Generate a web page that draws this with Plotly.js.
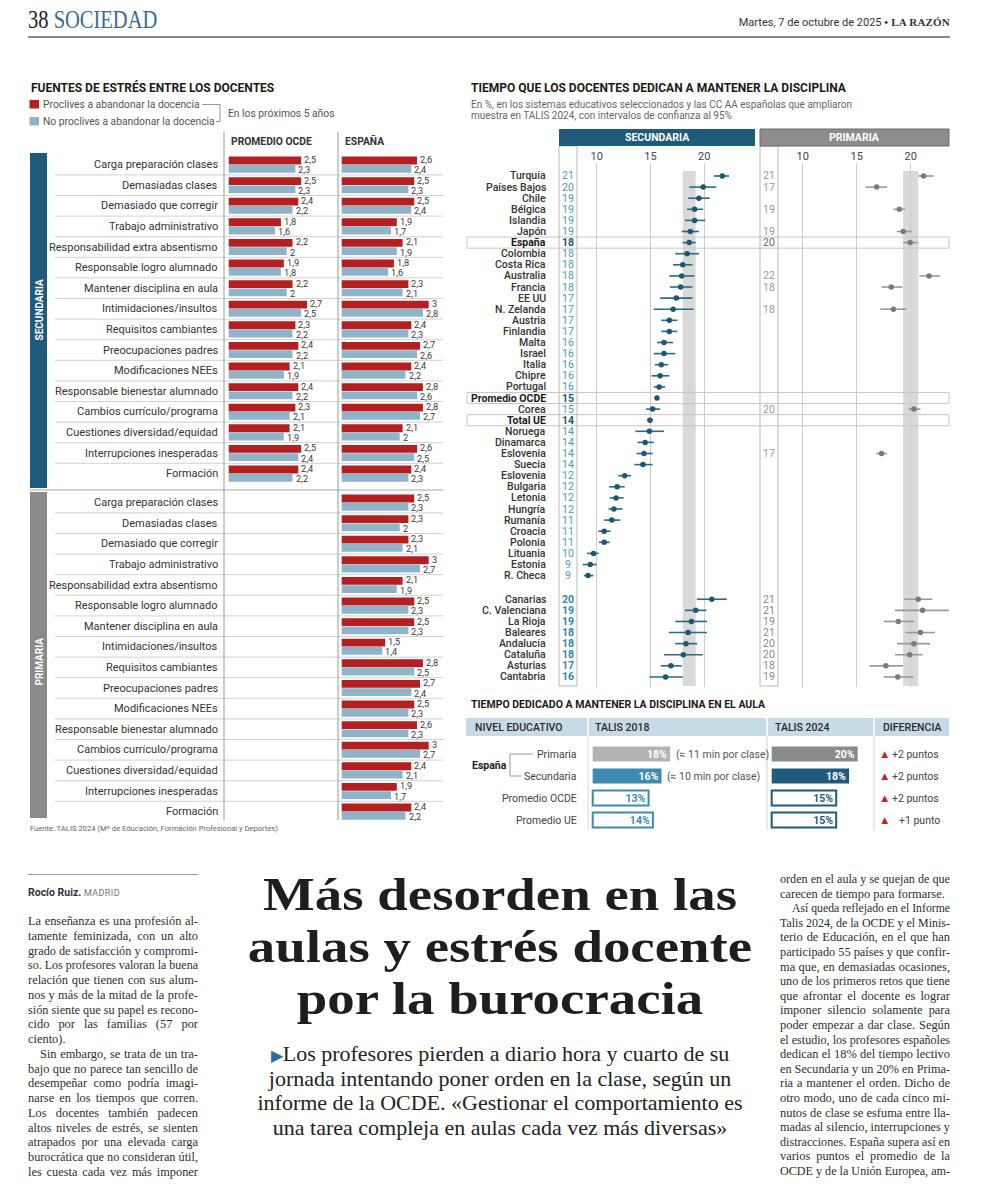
<!DOCTYPE html>
<html lang="es"><head><meta charset="utf-8">
<title>Más desorden en las aulas y estrés docente por la burocracia</title>
<script src="https://cdn.plot.ly/plotly-3.0.1.min.js"></script>
<style>
html,body{margin:0;padding:0;background:#fff}
body{width:988px;height:1200px;position:relative;overflow:hidden}
#chart{position:absolute;left:0;top:0;width:988px;height:845px;z-index:1}
.hdr-l{position:absolute;z-index:2;left:28px;top:5px;font-family:"Liberation Serif",serif;font-size:25px;line-height:30px;transform:scaleX(.82);transform-origin:left center;white-space:nowrap}
.hdr-l .n{color:#222}
.hdr-l .s{color:#3b6c92}
.hdr-r{position:absolute;z-index:2;right:38px;top:16px;font-family:Roboto,sans-serif;font-size:11px;line-height:13px;color:#333;white-space:nowrap}
.hdr-r b{font-family:"Liberation Serif",serif;font-weight:bold;letter-spacing:.2px}
.rule{position:absolute;z-index:2;left:28px;top:36px;width:922px;height:2px;background:#8c8c8c}
.col{position:absolute;font-family:"Liberation Serif",serif;font-size:12.4px;color:#2e2e2e}
.ln{white-space:nowrap;overflow:visible}
.ln span{display:inline-block;transform-origin:left center}
.ind{padding-left:12px}
.byrule{position:absolute;left:28px;top:874px;width:170px;height:1px;background:#999}
.by{position:absolute;left:28px;top:886px;font-family:Roboto,sans-serif;font-size:10.5px;line-height:14px;color:#333}
.by b{font-weight:bold}
.by small{font-size:9px;color:#777;letter-spacing:.4px}
.title{position:absolute;left:220px;top:869px;width:560px;text-align:center;font-family:"Liberation Serif",serif;font-weight:bold;font-size:46.5px;line-height:52px;color:#1e1e1e;transform:scaleX(1.18);transform-origin:280px 0}
.title div{height:52px;white-space:nowrap}
.sub{position:absolute;left:220px;top:1042px;width:560px;text-align:center;font-family:"Liberation Serif",serif;font-size:22px;line-height:24.5px;color:#222}
.sub div{height:24.5px;white-space:nowrap}
.sub .tri{color:#2a6d96;font-size:16px}
</style></head>
<body>
<div class="hdr-l"><span class="n">38 </span><span class="s">SOCIEDAD</span></div>
<div class="hdr-r">Martes, 7 de octubre de 2025 <b>• LA RAZÓN</b></div>
<div class="rule"></div>
<div id="chart"></div>

<div class="byrule"></div>
<div class="by"><b>Rocío Ruiz.</b> <small>MADRID</small></div>

<div class="col" id="colL" data-w="170" data-lh="14.75" style="left:28px;top:914px;width:170px">
<div class="ln">La enseñanza es una profesión al-</div>
<div class="ln">tamente feminizada, con un alto</div>
<div class="ln">grado de satisfacción y compromi-</div>
<div class="ln">so. Los profesores valoran la buena</div>
<div class="ln">relación que tienen con sus alum-</div>
<div class="ln">nos y más de la mitad de la profe-</div>
<div class="ln">sión siente que su papel es recono-</div>
<div class="ln">cido por las familias (57 por</div>
<div class="ln last">ciento).</div>
<div class="ln ind">Sin embargo, se trata de un tra-</div>
<div class="ln">bajo que no parece tan sencillo de</div>
<div class="ln">desempeñar como podría imagi-</div>
<div class="ln">narse en los tiempos que corren.</div>
<div class="ln">Los docentes también padecen</div>
<div class="ln">altos niveles de estrés, se sienten</div>
<div class="ln">atrapados por una elevada carga</div>
<div class="ln">burocrática que no consideran útil,</div>
<div class="ln">les cuesta cada vez más imponer</div>
</div>

<div class="title"><div>Más desorden en las</div><div>aulas y estrés docente</div><div>por la burocracia</div></div>
<div class="sub"><div><span class="tri">▶</span>Los profesores pierden a diario hora y cuarto de su</div><div>jornada intentando poner orden en la clase, según un</div><div>informe de la OCDE. «Gestionar el comportamiento es</div><div>una tarea compleja en aulas cada vez más diversas»</div></div>

<div class="col" id="colR" data-w="170" data-lh="14.6" style="left:780px;top:872px;width:170px">
<div class="ln">orden en el aula y se quejan de que</div>
<div class="ln last">carecen de tiempo para formarse.</div>
<div class="ln ind">Así queda reflejado en el Informe</div>
<div class="ln">Talis 2024, de la OCDE y el Minis-</div>
<div class="ln">terio de Educación, en el que han</div>
<div class="ln">participado 55 países y que confir-</div>
<div class="ln">ma que, en demasiadas ocasiones,</div>
<div class="ln">uno de los primeros retos que tiene</div>
<div class="ln">que afrontar el docente es lograr</div>
<div class="ln">imponer silencio solamente para</div>
<div class="ln">poder empezar a dar clase. Según</div>
<div class="ln">el estudio, los profesores españoles</div>
<div class="ln">dedican el 18% del tiempo lectivo</div>
<div class="ln">en Secundaria y un 20% en Prima-</div>
<div class="ln">ria a mantener el orden. Dicho de</div>
<div class="ln">otro modo, uno de cada cinco mi-</div>
<div class="ln">nutos de clase se esfuma entre lla-</div>
<div class="ln">madas al silencio, interrupciones y</div>
<div class="ln">distracciones. España supera así en</div>
<div class="ln">varios puntos el promedio de la</div>
<div class="ln">OCDE y de la Unión Europea, am-</div>
</div>

<script>
// ---------------- DATA ----------------
const stressCats = ["Carga preparación clases","Demasiadas clases","Demasiado que corregir","Trabajo administrativo","Responsabilidad extra absentismo","Responsable logro alumnado","Mantener disciplina en aula","Intimidaciones/insultos","Requisitos cambiantes","Preocupaciones padres","Modificaciones NEEs","Responsable bienestar alumnado","Cambios currículo/programa","Cuestiones diversidad/equidad","Interrupciones inesperadas","Formación"];
const secOcdeProclives   = [2.5,2.5,2.4,1.8,2.2,1.9,2.2,2.7,2.3,2.4,2.1,2.4,2.3,2.1,2.5,2.4];
const secOcdeNoProclives = [2.3,2.3,2.2,1.6,2,1.8,2,2.5,2.2,2.2,1.9,2.2,2.1,1.9,2.4,2.2];
const secEspProclives    = [2.6,2.5,2.5,1.9,2.1,1.8,2.3,3,2.4,2.7,2.4,2.8,2.8,2.1,2.6,2.4];
const secEspNoProclives  = [2.4,2.3,2.4,1.7,1.9,1.6,2.1,2.8,2.3,2.6,2.2,2.6,2.7,2,2.5,2.3];
const primEspProclives   = [2.5,2.3,2.3,3,2.1,2.5,2.5,1.5,2.8,2.7,2.5,2.6,3,2.4,1.9,2.4];
const primEspNoProclives = [2.3,2,2.1,2.7,1.9,2.3,2.3,1.4,2.5,2.4,2.3,2.3,2.7,2.1,1.7,2.2];

const countries = ["Turquía","Países Bajos","Chile","Bélgica","Islandia","Japón","España","Colombia","Costa Rica","Australia","Francia","EE UU","N. Zelanda","Austria","Finlandia","Malta","Israel","Italia","Chipre","Portugal","Promedio OCDE","Corea","Total UE","Noruega","Dinamarca","Eslovenia","Suecia","Eslovenia","Bulgaria","Letonia","Hungría","Rumanía","Croacia","Polonia","Lituania","Estonia","R. Checa"];
const highlighted = ["España","Promedio OCDE","Total UE"];
const secLabel = [21,20,19,19,19,19,18,18,18,18,18,17,17,17,17,16,16,16,16,16,15,15,14,14,14,14,14,12,12,12,12,11,11,11,10,9,9];
const secVal = [21.67,19.9,19.5,19.1,19.1,18.7,18.6,18.4,18.0,17.9,17.8,17.4,17.1,16.75,16.75,16.25,16.25,16.0,15.9,15.8,15.6,15.2,14.95,14.9,14.5,14.4,14.3,12.6,11.9,11.8,11.6,11.4,10.7,10.7,9.7,9.4,9.2];
const secLo  = [20.9,18.6,18.5,18.4,18.2,17.9,18.0,17.3,17.1,16.75,16.8,15.9,15.3,16.0,16.0,15.6,15.3,15.4,15.1,15.3,15.5,14.6,14.7,13.6,13.8,13.7,13.5,12.0,11.15,11.2,11.1,10.7,10.15,10.2,9.1,8.7,8.8];
const secHi  = [22.3,21.1,20.5,19.9,20.1,19.5,19.2,19.5,18.9,19.1,18.9,18.9,19.0,17.5,17.5,17.1,17.3,16.65,16.75,16.35,15.7,15.9,15.2,16.25,15.3,15.2,15.2,13.2,12.6,12.5,12.4,12.2,11.3,11.2,10.2,10.0,9.7];
const primLabel = [21,17,null,19,null,19,20,null,null,22,18,null,18,null,null,null,null,null,null,null,null,20,null,null,null,17,null,null,null,null,null,null,null,null,null,null,null];
const primVal   = [21.2,16.85,null,18.95,null,19.3,19.95,null,null,21.7,18.2,null,18.4,null,null,null,null,null,null,null,null,20.3,null,null,null,17.3,null,null,null,null,null,null,null,null,null,null,null];
const primLo    = [20.7,15.8,null,18.4,null,18.7,19.3,null,null,20.8,17.3,null,17.2,null,null,null,null,null,null,null,null,19.8,null,null,null,16.8,null,null,null,null,null,null,null,null,null,null,null];
const primHi    = [22.1,17.8,null,19.5,null,20.1,20.7,null,null,22.7,19.25,null,19.6,null,null,null,null,null,null,null,null,20.9,null,null,null,17.8,null,null,null,null,null,null,null,null,null,null,null];

const regions = ["Canarias","C. Valenciana","La Rioja","Baleares","Andalucía","Cataluña","Asturias","Cantabria"];
const regSecLabel = [20,19,19,18,18,18,17,16];
const regSecVal = [20.7,19.2,18.8,18.5,18.3,18.05,16.9,16.4];
const regSecLo  = [19.3,18.2,17.3,16.7,17.3,16.25,15.95,14.9];
const regSecHi  = [22.1,20.2,20.25,20.25,19.35,19.85,17.9,18.0];
const regPrimLabel = [21,21,19,21,20,20,18,19];
const regPrimVal = [20.7,21.1,18.85,20.9,20.3,19.9,17.7,18.8];
const regPrimLo  = [19.4,18.55,17.5,19.5,18.75,18.55,16.2,17.5];
const regPrimHi  = [22.0,23.6,20.3,22.25,21.8,21.1,19.3,20.25];

const tableLevels = ["Primaria","Secundaria","Promedio OCDE","Promedio UE"];
const talis2018 = [18,16,13,14];
const talis2024 = [20,18,15,15];
const minutes2018 = ["(≈ 11 min por clase)","(≈ 10 min por clase)","",""];

// ---------------- GEOMETRY HELPERS ----------------
const W = 988, H = 845;
const fx = p => p / W;
const fy = p => 1 - p / H;
const rng = (d0, d1, z, ppu) => [(d0 - z) / ppu, (d1 - z) / ppu];
const dec = v => String(v).replace('.', ',');
const FONT = 'Roboto, "Liberation Sans", sans-serif';

const RED = '#b3201f', LBLUE = '#8fb3c8', DBLUE = '#1f5a7a', TEAL = '#3d8bb0', DOT = '#1d5872';

const traces = [], shapes = [], ann = [];
const A = (o) => ann.push(Object.assign({showarrow:false, xanchor:'center', yanchor:'middle', font:{family:FONT, size:10.5, color:'#333'}}, o));
const line = (x0,y0,x1,y1,color,w,extra) => shapes.push(Object.assign({type:'line',xref:'paper',yref:'paper',x0:fx(x0),x1:fx(x1),y0:fy(y0),y1:fy(y1),line:{color:color,width:w}},extra||{}));
const rect = (x0,y0,x1,y1,fill,lc,lw,extra) => shapes.push(Object.assign({type:'rect',xref:'paper',yref:'paper',x0:fx(x0),x1:fx(x1),y0:fy(y0),y1:fy(y1),fillcolor:fill,line:{color:lc||fill,width:lw||0}},extra||{}));

// ================= LEFT CHART =================
const LT = 150, LB = 822, L0 = 164.6, LP = 20.6;
const primStart = (502.6 - L0) / LP;
const secIdx = stressCats.map((c,i)=>i);
const primIdx = stressCats.map((c,i)=>primStart+i);
const OFF = 0.2, BW = 0.38;
function hbar(xs, ys, color, xa, lblShift){
  traces.push({type:'bar', orientation:'h', x:xs, y:ys, xaxis:xa, yaxis:'y', width:BW,
    marker:{color:color}, hoverinfo:'skip'});
  xs.forEach((v,k)=>A({xref:xa, yref:'y', x:v, y:ys[k], xanchor:'left', xshift:1, yshift:lblShift,
    text:dec(v), font:{family:FONT,size:9.2,color:'#3a3a3a'}}));
}
hbar(secOcdeProclives,   secIdx.map(i=>i-OFF), RED, 'x', 1.0);
hbar(secOcdeNoProclives, secIdx.map(i=>i+OFF), LBLUE, 'x', -1.0);
hbar(secEspProclives,    secIdx.map(i=>i-OFF), RED, 'x2', 1.0);
hbar(secEspNoProclives,  secIdx.map(i=>i+OFF), LBLUE, 'x2', -1.0);
hbar(primEspProclives,   primIdx.map(i=>i-OFF), RED, 'x2', 1.0);
hbar(primEspNoProclives, primIdx.map(i=>i+OFF), LBLUE, 'x2', -1.0);

// row separators
secIdx.slice(0,15).forEach(i=>shapes.push({type:'line',xref:'paper',yref:'y',x0:fx(55),x1:fx(443),y0:i+0.5,y1:i+0.5,line:{color:'#d2d2d2',width:1}}));
primIdx.slice(0,15).forEach(i=>shapes.push({type:'line',xref:'paper',yref:'y',x0:fx(55),x1:fx(443),y0:i+0.5,y1:i+0.5,line:{color:'#d2d2d2',width:1}}));
line(30,490,443,490,'#c4c4c4',1.5);
line(224,132,224,820,'#9a9a9a',1);
line(338,132,338,820,'#9a9a9a',1);
// section bars
rect(30,153,47,488,DBLUE);
rect(30,492,47,818,'#8a8a8a');
A({xref:'paper',yref:'paper',x:fx(38.5),y:fy(310),text:'<b>SECUNDARIA</b>',textangle:-90,font:{family:FONT,size:10,color:'#fff'}});
A({xref:'paper',yref:'paper',x:fx(38.5),y:fy(662),text:'<b>PRIMARIA</b>',textangle:-90,font:{family:FONT,size:10,color:'#fff'}});
// category labels
stressCats.forEach((c,i)=>{
  A({xref:'paper',yref:'y',x:fx(220),y:secIdx[i],xanchor:'right',text:c,font:{family:FONT,size:11,color:'#333'}});
  A({xref:'paper',yref:'y',x:fx(220),y:primIdx[i],xanchor:'right',text:c,font:{family:FONT,size:11,color:'#333'}});
});
// titles / legend
A({xref:'paper',yref:'paper',x:fx(29),y:fy(88),xanchor:'left',text:'<b>FUENTES DE ESTRÉS ENTRE LOS DOCENTES</b>',font:{family:FONT,size:12,color:'#1a1a1a'}});
rect(29.5,100,39,108.5,RED);
rect(29.5,117,39,125.5,LBLUE);
A({xref:'paper',yref:'paper',x:fx(40.5),y:fy(104.3),xanchor:'left',text:'Proclives a abandonar la docencia',font:{family:FONT,size:10.3,color:'#555'}});
A({xref:'paper',yref:'paper',x:fx(40.5),y:fy(121),xanchor:'left',text:'No proclives a abandonar la docencia',font:{family:FONT,size:10.3,color:'#555'}});
line(202,104.5,220,104.5,'#999',1);
line(220,104.5,220,121.5,'#999',1);
line(216,121.5,220,121.5,'#999',1);
A({xref:'paper',yref:'paper',x:fx(226),y:fy(113.3),xanchor:'left',text:'En los próximos 5 años',font:{family:FONT,size:10.3,color:'#555'}});
A({xref:'paper',yref:'paper',x:fx(228.5),y:fy(141.5),xanchor:'left',text:'<b>PROMEDIO OCDE</b>',font:{family:FONT,size:10.3,color:'#333'}});
A({xref:'paper',yref:'paper',x:fx(342.5),y:fy(141.5),xanchor:'left',text:'<b>ESPAÑA</b>',font:{family:FONT,size:10.3,color:'#333'}});
A({xref:'paper',yref:'paper',x:fx(28),y:fy(828),xanchor:'left',text:'Fuente: TALIS 2024 (Mº de Educación, Formación Profesional y Deportes)',font:{family:FONT,size:7.6,color:'#666'}});

// ================= RIGHT CHART =================
const RT = 163, RB = 687, R0 = 176, RP = 11.1, REG0 = 38.13;
const cIdx = countries.map((c,i)=>i);
const rIdx = regions.map((r,j)=>REG0+j);
const espI = countries.indexOf('España');

// header boxes
rect(559,129,755,146,DBLUE);
rect(760,129,949,146,'#8c8c8c','#6c6c6c',1);
A({xref:'paper',yref:'paper',x:fx(657),y:fy(137.5),text:'<b>SECUNDARIA</b>',font:{family:FONT,size:10.5,color:'#fff'}});
A({xref:'paper',yref:'paper',x:fx(854.5),y:fy(137.5),text:'<b>PRIMARIA</b>',font:{family:FONT,size:10.5,color:'#fff'}});
A({xref:'paper',yref:'paper',x:fx(469),y:fy(88),xanchor:'left',text:'<b>TIEMPO QUE LOS DOCENTES DEDICAN A MANTENER LA DISCIPLINA</b>',font:{family:FONT,size:12,color:'#1a1a1a'}});
A({xref:'paper',yref:'paper',x:fx(469),y:fy(104.3),xanchor:'left',text:'En %, en los sistemas educativos seleccionados y las CC AA españolas que ampliaron',font:{family:FONT,size:10,color:'#666'}});
A({xref:'paper',yref:'paper',x:fx(469),y:fy(115.7),xanchor:'left',text:'muestra en TALIS 2024, con intervalos de confianza al 95%',font:{family:FONT,size:10,color:'#666'}});

// Spain reference bands (from Spain CI)
shapes.push({type:'rect',xref:'x3',yref:'paper',x0:secLo[espI],x1:secHi[espI],y0:fy(686),y1:fy(171),fillcolor:'#d9d9d9',line:{width:0},layer:'below'});
shapes.push({type:'rect',xref:'x4',yref:'paper',x0:primLo[espI],x1:primHi[espI],y0:fy(686),y1:fy(171),fillcolor:'#d9d9d9',line:{width:0},layer:'below'});
// number columns
rect(559,146,577,686,'rgba(0,0,0,0)','#b8b8b8',1,{layer:'below'});
rect(760,146,778,686,'rgba(0,0,0,0)','#b8b8b8',1,{layer:'below'});
// highlighted rows
highlighted.forEach(h=>{
  const i = countries.indexOf(h);
  shapes.push({type:'rect',xref:'paper',yref:'y3',x0:fx(467),x1:fx(949),y0:i-0.5,y1:i+0.5,fillcolor:'rgba(0,0,0,0)',line:{color:'#c6c6c6',width:1},layer:'below'});
});
// labels & numbers
countries.forEach((c,i)=>{
  const hl = highlighted.includes(c);
  A({xref:'paper',yref:'y3',x:fx(547.5),y:i,xanchor:'right',text:hl?'<b>'+c+'</b>':c,font:{family:FONT,size:10.5,color:hl?'#1a1a1a':'#333',weight:hl?700:500}});
  A({xref:'paper',yref:'y3',x:fx(568),y:i,text:hl?'<b>'+secLabel[i]+'</b>':String(secLabel[i]),font:{family:FONT,size:10.5,color:hl?DOT:'#4a98b8'}});
  if(primLabel[i]!==null) A({xref:'paper',yref:'y3',x:fx(769),y:i,text:String(primLabel[i]),font:{family:FONT,size:10.5,color:c==='España'?'#666':'#999'}});
});
regions.forEach((r,j)=>{
  A({xref:'paper',yref:'y3',x:fx(547.5),y:rIdx[j],xanchor:'right',text:r,font:{family:FONT,size:10.5,color:'#333',weight:500}});
  A({xref:'paper',yref:'y3',x:fx(568),y:rIdx[j],text:'<b>'+regSecLabel[j]+'</b>',font:{family:FONT,size:10.5,color:'#2f86ad'}});
  A({xref:'paper',yref:'y3',x:fx(769),y:rIdx[j],text:String(regPrimLabel[j]),font:{family:FONT,size:10.5,color:'#888'}});
});
function dots(vals, lo, hi, ys, xa, color, ecolor){
  traces.push({type:'scatter', mode:'markers', x:vals, y:ys, xaxis:xa, yaxis:'y3',
    marker:{color:color,size:5.5}, cliponaxis:false, hoverinfo:'skip',
    error_x:{type:'data',symmetric:false,array:vals.map((v,k)=>v===null?null:hi[k]-v),arrayminus:vals.map((v,k)=>v===null?null:v-lo[k]),color:ecolor,thickness:1.6,width:0}});
}
dots(secVal.concat(regSecVal), secLo.concat(regSecLo), secHi.concat(regSecHi), cIdx.concat(rIdx), 'x3', DOT, '#2a6a86');
dots(primVal.concat(regPrimVal), primLo.concat(regPrimLo), primHi.concat(regPrimHi), cIdx.concat(rIdx), 'x4', '#7a7a7a', '#9a9a9a');

// ================= TABLE =================
const TT = 742, TB = 830, T0 = 754, TP = 22;
const tIdx = tableLevels.map((t,i)=>i);
A({xref:'paper',yref:'paper',x:fx(469),y:fy(704),xanchor:'left',text:'<b>TIEMPO DEDICADO A MANTENER LA DISCIPLINA EN EL AULA</b>',font:{family:FONT,size:10.5,color:'#1a1a1a'}});
rect(466,718,949,736,'#c7dbe7');
[588,767,874].forEach(x=>{ line(x,718,x,736,'#ffffff',1.5); line(x,736,x,830,'#d6d6d6',1); });
A({xref:'paper',yref:'paper',x:fx(473),y:fy(727.5),xanchor:'left',text:'NIVEL EDUCATIVO',font:{family:FONT,size:10.5,color:'#2a2a2a',weight:500}});
A({xref:'paper',yref:'paper',x:fx(593),y:fy(727.5),xanchor:'left',text:'TALIS 2018',font:{family:FONT,size:10.5,color:'#2a2a2a',weight:500}});
A({xref:'paper',yref:'paper',x:fx(773),y:fy(727.5),xanchor:'left',text:'TALIS 2024',font:{family:FONT,size:10.5,color:'#2a2a2a',weight:500}});
A({xref:'paper',yref:'paper',x:fx(880.5),y:fy(727.5),xanchor:'left',text:'DIFERENCIA',font:{family:FONT,size:10.5,color:'#2a2a2a',weight:500}});
A({xref:'paper',yref:'paper',x:fx(470),y:fy(765),xanchor:'left',text:'<b>España</b>',font:{family:FONT,size:10.5,color:'#222'}});
line(510,754,533,754,'#999',1); line(510,754,510,776,'#999',1); line(510,776,521,776,'#999',1);
tableLevels.forEach((t,i)=>A({xref:'paper',yref:'y5',x:fx(578.5),y:i,xanchor:'right',text:t,font:{family:FONT,size:10.5,color:'#444'}}));
const fill18 = ['#b3b3b3',TEAL,'#ffffff','#ffffff'], line18 = ['#b3b3b3',TEAL,TEAL,TEAL], txt18 = ['#ffffff','#ffffff',TEAL,TEAL];
const fill24 = ['#8a8a8a',DBLUE,'#ffffff','#ffffff'], line24 = ['#8a8a8a',DBLUE,DBLUE,DBLUE], txt24 = ['#ffffff','#ffffff',DBLUE,DBLUE];
function tbar(vals, xa, fill, lc, tc){
  traces.push({type:'bar',orientation:'h',x:vals,y:tIdx,xaxis:xa,yaxis:'y5',width:0.68,
    marker:{color:fill,line:{color:lc,width:vals.map((v,k)=>k<2?0:2)}},
    text:vals.map(v=>v+'%'),textposition:'inside',insidetextanchor:'end',constraintext:'none',
    textfont:{family:FONT,size:10.5,color:tc,weight:700},hoverinfo:'skip'});
}
tbar(talis2018,'x5',fill18,line18,txt18);
tbar(talis2024,'x6',fill24,line24,txt24);
minutes2018.forEach((m,i)=>{ if(m) A({xref:'x5',yref:'y5',x:talis2018[i]+0.8,y:i,xanchor:'left',text:m,font:{family:FONT,size:10.5,color:'#555'}}); });
tableLevels.forEach((t,i)=>{
  const d = talis2024[i]-talis2018[i];
  A({xref:'paper',yref:'y5',x:fx(884),y:i,text:'▲',font:{family:FONT,size:11.5,color:'#c0272d'}});
  A({xref:'paper',yref:'y5',x:fx(d===1?897:889.5),y:i,xanchor:'left',text:'+'+d+(d===1?' punto':' puntos'),font:{family:FONT,size:10.5,color:'#444'}});
});

// ---------------- LAYOUT ----------------
const hid = {visible:false, fixedrange:true};
const layout = {
  width:W, height:H, margin:{l:0,r:0,t:0,b:0}, paper_bgcolor:'rgba(0,0,0,0)', plot_bgcolor:'rgba(0,0,0,0)',
  showlegend:false, barmode:'overlay', font:{family:FONT},
  xaxis: Object.assign({domain:[fx(224),fx(336)], range:rng(224,336,228.7,29), anchor:'y'}, hid),
  xaxis2:Object.assign({domain:[fx(338),fx(445)], range:rng(338,445,341.7,29), anchor:'y'}, hid),
  yaxis: Object.assign({domain:[fy(LB),fy(LT)], range:[(LB-L0)/LP,(LT-L0)/LP], anchor:'x'}, hid),
  xaxis3:{domain:[fx(559),fx(755)], range:rng(559,755,489.1,10.76), anchor:'y3', side:'top', tickvals:[10,15,20], showgrid:true, gridcolor:'#cdcdcd', gridwidth:1, zeroline:false, showline:false, ticks:'', tickfont:{family:FONT,size:11,color:'#444'}, fixedrange:true},
  xaxis4:{domain:[fx(760),fx(949)], range:rng(760,949,694.7,10.8), anchor:'y3', side:'top', tickvals:[10,15,20], showgrid:true, gridcolor:'#cdcdcd', gridwidth:1, zeroline:false, showline:false, ticks:'', tickfont:{family:FONT,size:11,color:'#444'}, fixedrange:true},
  yaxis3:Object.assign({domain:[fy(RB),fy(RT)], range:[(RB-R0)/RP,(RT-R0)/RP], anchor:'x3'}, hid),
  xaxis5:Object.assign({domain:[fx(588),fx(767)], range:rng(588,767,592.7,4.3), anchor:'y5'}, hid),
  xaxis6:Object.assign({domain:[fx(767),fx(874)], range:rng(767,874,771.7,4.3), anchor:'y5'}, hid),
  yaxis5:Object.assign({domain:[fy(TB),fy(TT)], range:[(TB-T0)/TP,(TT-T0)/TP], anchor:'x5'}, hid),
  shapes:shapes, annotations:ann
};
Plotly.newPlot('chart', traces, layout, {displayModeBar:false, staticPlot:true});

// ---------------- justify article columns ----------------
document.querySelectorAll('.col').forEach(col=>{
  const w = parseFloat(col.dataset.w), lh = parseFloat(col.dataset.lh);
  col.querySelectorAll('.ln').forEach(ln=>{
    ln.style.height = lh+'px'; ln.style.lineHeight = lh+'px';
    const txt = ln.textContent; ln.textContent='';
    const sp = document.createElement('span'); sp.textContent = txt; ln.appendChild(sp);
    const avail = w - (ln.classList.contains('ind')?12:0);
    const nat = sp.getBoundingClientRect().width;
    if(nat > avail){ sp.style.transform = 'scaleX('+(avail/nat)+')'; }
    else if(!ln.classList.contains('last')){
      const n = (txt.match(/ /g)||[]).length;
      if(n>0) sp.style.wordSpacing = ((avail-nat)/n)+'px';
    }
  });
});
</script>
</body></html>
